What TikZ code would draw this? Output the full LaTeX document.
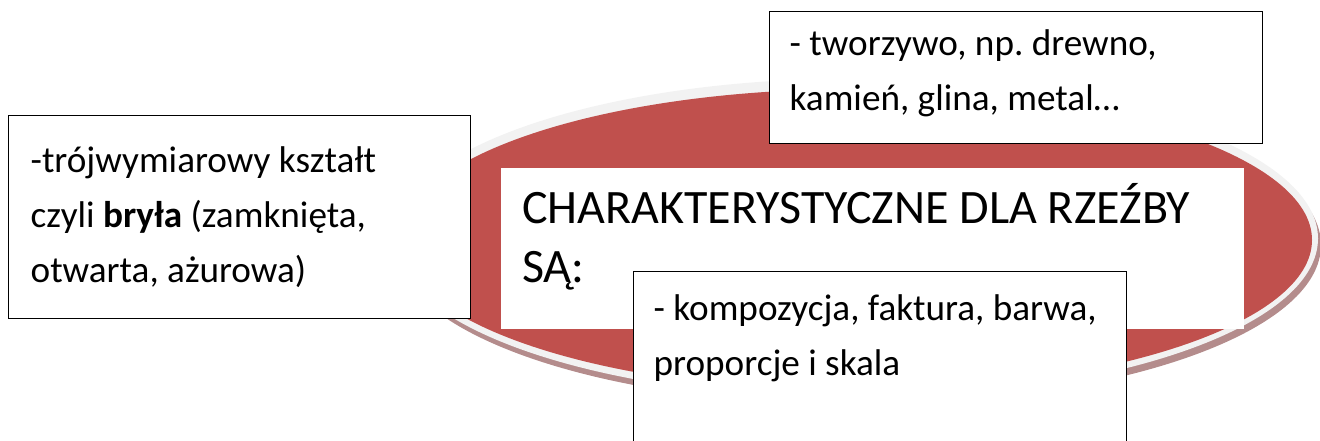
\documentclass[tikz,border=0pt]{standalone}
\usepackage{fontspec}
\setmainfont{Carlito}
\usetikzlibrary{positioning}
\definecolor{sculptred}{RGB}{192,80,77}
\definecolor{rimgray}{RGB}{242,242,242}
\definecolor{rimshadow}{RGB}{180,140,140}
\frenchspacing

\begin{document}
\begin{tikzpicture}[
    x=1pt, y=-1pt,
    infobox/.style={rectangle, draw=black, line width=1.3pt, fill=white, anchor=north west, align=flush left, inner xsep=22pt, inner ysep=0pt, font=\fontsize{37.2}{55}\selectfont},
    titlebox/.style={rectangle, fill=white, anchor=north west, align=flush left, inner xsep=21pt, inner ysep=0pt, font=\fontsize{48}{59}\selectfont}
]
\useasboundingbox (0,0) rectangle (1320,441);

% Ellipse with rim and shadow
\fill[rimshadow] (858,245) ellipse [x radius=463pt, y radius=160pt];
\fill[rimgray] (855,238.5) ellipse [x radius=463pt, y radius=160pt];
\fill[sculptred] (856,240) ellipse [x radius=456pt, y radius=151pt];

% Title in the middle
\node[titlebox, text width=701pt, text height=55pt, text depth=106pt] (title) at (501,168) {CHARAKTERYSTYCZNE DLA RZEŹBY\\SĄ:};

% Boxes round the title
\node[infobox, text width=418pt, text height=57pt, text depth=146pt] (shape) at (8,115) {-trójwymiarowy kształt\\czyli \textbf{bryła} (zamknięta,\\otwarta, ażurowa)};
\node[infobox, inner xsep=20pt, text width=453pt, text height=44pt, text depth=88pt] (material) at (769,11) {- tworzywo, np. drewno,\\kamień, glina, metal…};
\node[infobox, inner xsep=20pt, text width=453pt, text height=49pt, text depth=135pt] (form) at (633,271) {- kompozycja, faktura, barwa,\\proporcje i skala};

\end{tikzpicture}
\end{document}
